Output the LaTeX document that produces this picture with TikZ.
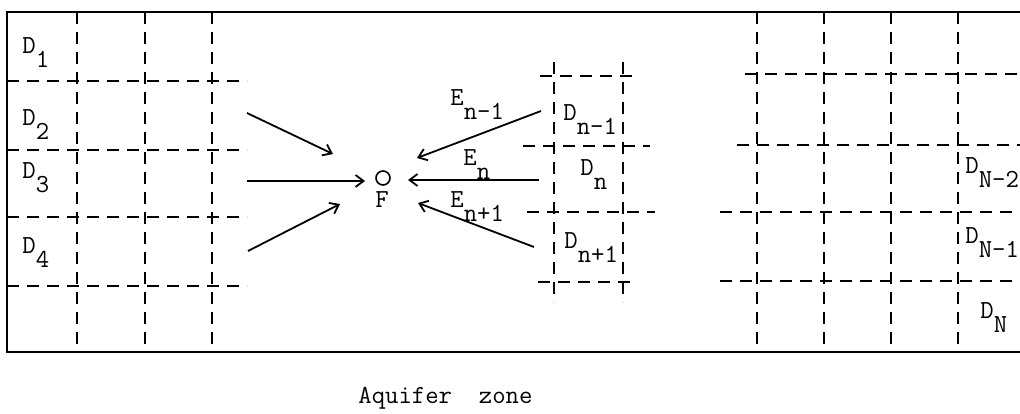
\documentclass[tikz,border=0pt]{standalone}
\usepackage{tikz}
\usetikzlibrary{positioning,arrows.meta}
\newcommand{\lowr}[1]{\raisebox{-0.55em}{#1}}

\begin{document}
\begin{tikzpicture}[
        x=0.5pt, y=-0.5pt,
        every node/.style={font=\fontsize{13}{15}\selectfont\ttfamily, inner sep=0pt},
        wall/.style={line width=1.4pt},
        cellgrid/.style={line width=0.9pt, dash pattern=on 6pt off 4pt},
        flow/.style={-{Straight Barb[length=4pt,width=6pt]}, line width=0.9pt},
        cell/.style={anchor=base west},
        well/.style={draw, circle, minimum size=7pt, line width=0.8pt}
    ]
    \useasboundingbox (0,0) rectangle (1020,413);

    % Aquifer boundary
    \draw[wall] (1020,12) -- (7,12) -- (7,352) -- (1020,352);

    % Left cells
    \foreach \x in {77,145,212} \draw[cellgrid] (\x,12) -- (\x,352);
    \foreach \y in {81,150,217,286} \draw[cellgrid] (7,\y) -- (247,\y);
    \node[cell] (d1) at (22,53) {D\lowr{1}};
    \node[cell] (d2) at (22,125) {D\lowr{2}};
    \node[cell] (d3) at (22,178) {D\lowr{3}};
    \node[cell] (d4) at (22,253) {D\lowr{4}};

    % Middle cells
    \foreach \x in {554,623} \draw[cellgrid] (\x,62) -- (\x,302);
    \draw[cellgrid] (540,76) -- (635,76);
    \draw[cellgrid] (523,146) -- (650,146);
    \draw[cellgrid] (527,212) -- (655,212);
    \draw[cellgrid] (538,282) -- (632,282);
    \node[cell] (dnm) at (563,120) {D\lowr{n-1}};
    \node[cell] (dn) at (580,175) {D\lowr{n}};
    \node[cell] (dnp) at (564,248) {D\lowr{n+1}};

    % Right cells
    \foreach \x in {757,824,891,958} \draw[cellgrid] (\x,12) -- (\x,352);
    \draw[cellgrid] (745,74) -- (1020,74);
    \draw[cellgrid] (737,145) -- (1020,145);
    \draw[cellgrid] (720,212) -- (1020,212);
    \draw[cellgrid] (720,281) -- (1020,281);
    \node[cell] (dNmm) at (965,173) {D\lowr{N-2}};
    \node[cell] (dNm) at (965,243) {D\lowr{N-1}};
    \node[cell] (dN) at (980,318) {D\lowr{N}};

    % Well F
    \node[well] (f) at (383,178) {};
    \node[anchor=base] (flab) at (382,207) {F};

    % Flow ends
    \coordinate (la) at (247,113);
    \coordinate (lb) at (247,181);
    \coordinate (lc) at (248,251);
    \coordinate (fla) at (333,154);
    \coordinate (flb) at (365,181);
    \coordinate (flc) at (340,204);
    \coordinate (ra) at (541,111);
    \coordinate (rb) at (539,180);
    \coordinate (rc) at (534,247);
    \coordinate (fra) at (417,158);
    \coordinate (frb) at (408,180);
    \coordinate (frc) at (418,203);

    % Flows into F
    \draw[flow] (la) -- (fla);
    \draw[flow] (lb) -- (flb);
    \draw[flow] (lc) -- (flc);
    \draw[flow] (ra) -- (fra);
    \draw[flow] (rb) -- (frb);
    \draw[flow] (rc) -- (frc);

    % Flow labels
    \node[cell] (enm) at (450,105) {E\lowr{n-1}};
    \node[cell] (en) at (463,165) {E\lowr{n}};
    \node[cell] (enp) at (450,207) {E\lowr{n+1}};

    % Caption
    \node[cell] (cap) at (358,403) {Aquifer\ \ zone};

\end{tikzpicture}
\end{document}
